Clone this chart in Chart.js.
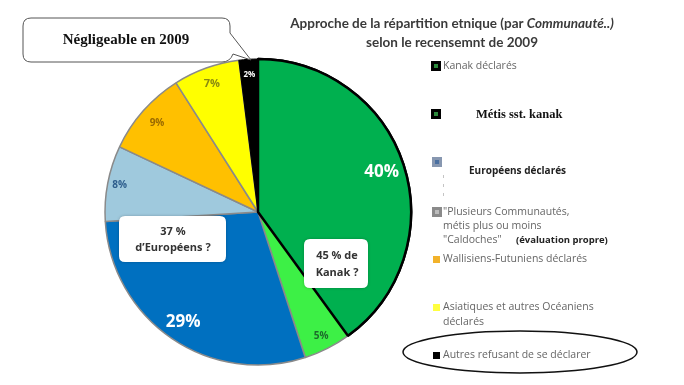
<!DOCTYPE html>
<html lang="fr">
<head>
<meta charset="utf-8">
<script src="https://cdn.jsdelivr.net/npm/chart.js@4.4.0/dist/chart.umd.min.js"></script>
<style>
  html, body { margin: 0; padding: 0; background: #fff; }
  #wrap { width: 684px; height: 385px; position: relative; }
</style>
</head>
<body>
<div id="wrap"><canvas id="camembert" width="684" height="385"></canvas></div>
<script>
// données (recensement 2009)
const communautes = ['Kanak déclarés', 'Métis sst. kanak', 'Européens déclarés',
  'Plusieurs Communautés', 'Wallisiens-Futuniens déclarés',
  'Asiatiques et autres Océaniens déclarés', 'Autres refusant de se déclarer'];
const parts = [40, 5, 29, 8, 9, 7, 2];
const titreLigne1 = 'Approche de la répartition etnique (par ';
const titreItalique = 'Communauté..)';
const titreLigne2 = 'selon le recensemnt de 2009';
const bulleEuropeens = ['37 %', 'd\u2019Européens ?'];
const bulleKanak = ['45 % de', 'Kanak ?'];
const bulleNegligeable = 'Négligeable en 2009';

const couleurs = ['#00b04f', '#3df046', '#0070c0', '#9fc9dd', '#ffc000', '#ffff00', '#000000'];
const bordures = ['#000000', '#8a8a8a', '#8a8a8a', '#8a8a8a', '#8a8a8a', '#8a8a8a', '#000000'];
const epaisseurs = [2.5, 1.5, 1.5, 1.5, 1.5, 1.5, 1];

// style des étiquettes dans les parts
const etiqCouleur = ['#ffffff', '#1d6b2c', '#ffffff', '#2d5d8c', '#9a6a00', '#8a8a10', '#ffffff'];
const etiqTaille = [17, 10, 17, 10, 10, 11, 8];
const etiqDist = [0.85, 0.91, 0.87, 0.92, 0.88, 0.89, 0.9];

function roundRect(ctx, x, y, w, h, r) {
  ctx.beginPath();
  ctx.moveTo(x + r, y);
  ctx.lineTo(x + w - r, y);
  ctx.quadraticCurveTo(x + w, y, x + w, y + r);
  ctx.lineTo(x + w, y + h - r);
  ctx.quadraticCurveTo(x + w, y + h, x + w - r, y + h);
  ctx.lineTo(x + r, y + h);
  ctx.quadraticCurveTo(x, y + h, x, y + h - r);
  ctx.lineTo(x, y + r);
  ctx.quadraticCurveTo(x, y, x + r, y);
  ctx.closePath();
}

function carre(ctx, x, y, taille, fond, centre) {
  ctx.fillStyle = fond;
  ctx.fillRect(x, y, taille, taille);
  if (centre) {
    ctx.fillStyle = centre;
    ctx.fillRect(x + taille / 2 - 2, y + taille / 2 - 2, 4, 4);
  }
}

const decor = {
  id: 'decor',
  afterDatasetsDraw(chart) {
    const ctx = chart.ctx;
    const meta = chart.getDatasetMeta(0);
    // on redessine la part Kanak pour garder sa bordure noire au-dessus
    meta.data[0].draw(ctx);

    ctx.save();
    ctx.textAlign = 'center';
    ctx.textBaseline = 'middle';
    meta.data.forEach((arc, i) => {
      const p = arc.getProps(['x', 'y', 'startAngle', 'endAngle', 'outerRadius'], true);
      const mid = (p.startAngle + p.endAngle) / 2;
      const r = p.outerRadius * etiqDist[i];
      ctx.font = 'bold ' + etiqTaille[i] + 'px "Open Sans", sans-serif';
      ctx.fillStyle = etiqCouleur[i];
      ctx.fillText(parts[i] + '%', p.x + Math.cos(mid) * r, p.y + Math.sin(mid) * r);
    });

    // bulles blanches
    ctx.shadowColor = 'rgba(0,0,0,0.25)';
    ctx.shadowBlur = 3;
    ctx.fillStyle = '#ffffff';
    roundRect(ctx, 119, 216, 107, 46, 6);
    ctx.fill();
    roundRect(ctx, 304, 239, 64, 49, 6);
    ctx.fill();
    ctx.shadowColor = 'transparent';
    ctx.font = 'bold 11px "Open Sans", sans-serif';
    ctx.fillStyle = '#333333';
    ctx.fillText(bulleEuropeens[0], 173, 232);
    ctx.fillText(bulleEuropeens[1], 173, 248);
    ctx.fillText(bulleKanak[0], 337, 256);
    ctx.fillText(bulleKanak[1], 337, 273);

    // bulle "Négligeable en 2009"
    ctx.beginPath();
    ctx.moveTo(31, 18);
    ctx.lineTo(222, 18);
    ctx.quadraticCurveTo(230, 18, 230, 26);
    ctx.lineTo(230, 33);
    ctx.lineTo(251, 60);
    ctx.lineTo(233, 54);
    ctx.quadraticCurveTo(230, 62, 222, 62);
    ctx.lineTo(31, 62);
    ctx.quadraticCurveTo(23, 62, 23, 54);
    ctx.lineTo(23, 26);
    ctx.quadraticCurveTo(23, 18, 31, 18);
    ctx.closePath();
    ctx.fillStyle = '#ffffff';
    ctx.fill();
    ctx.strokeStyle = '#555555';
    ctx.lineWidth = 1;
    ctx.stroke();
    ctx.fillStyle = '#111111';
    ctx.font = 'bold 15px "Liberation Serif", serif';
    ctx.fillText(bulleNegligeable, 126, 40);

    // titre
    ctx.font = 'bold 13.5px Lato, sans-serif';
    const w1 = ctx.measureText(titreLigne1).width;
    ctx.font = 'bold italic 13.5px Lato, sans-serif';
    const w2 = ctx.measureText(titreItalique).width;
    const x0 = 452 - (w1 + w2) / 2;
    ctx.textAlign = 'left';
    ctx.fillStyle = '#3a3a3a';
    ctx.font = 'bold 13.5px Lato, sans-serif';
    ctx.fillText(titreLigne1, x0, 24);
    ctx.font = 'bold italic 13.5px Lato, sans-serif';
    ctx.fillText(titreItalique, x0 + w1, 24);
    ctx.textAlign = 'center';
    ctx.font = 'bold 13.5px Lato, sans-serif';
    ctx.fillText(titreLigne2, 452, 43);

    // légende
    ctx.textAlign = 'left';
    const txtLegende = '10.5px "Open Sans", sans-serif';
    carre(ctx, 431, 61, 10, '#000000', '#2c8a3c');
    ctx.font = txtLegende;
    ctx.fillStyle = '#666666';
    ctx.fillText(communautes[0], 443, 66);

    carre(ctx, 431, 109, 10, '#000000', '#2c8a3c');
    ctx.font = 'bold 12.5px "Liberation Serif", serif';
    ctx.fillStyle = '#111111';
    ctx.fillText(communautes[1], 476, 115);

    carre(ctx, 432, 157, 10, '#8797b0', '#4a6fa0');
    ctx.font = 'bold 10px "Open Sans", sans-serif';
    ctx.fillStyle = '#222222';
    ctx.fillText(communautes[2], 469, 171);
    ctx.strokeStyle = '#c4c4c4';
    ctx.setLineDash([3, 6]);
    ctx.beginPath();
    ctx.moveTo(443.5, 175);
    ctx.lineTo(443.5, 198);
    ctx.stroke();
    ctx.setLineDash([]);

    carre(ctx, 432, 207, 10, '#8a8a8a', '#bcbcbc');
    ctx.font = txtLegende;
    ctx.fillStyle = '#666666';
    ctx.fillText('"' + communautes[3] + ',', 443, 212);
    ctx.fillText('métis plus ou moins', 443, 226);
    ctx.fillText('"Caldoches"', 443, 240);
    ctx.font = 'bold 9.5px "Open Sans", sans-serif';
    ctx.fillStyle = '#222222';
    ctx.fillText('(évaluation propre)', 516, 240);

    carre(ctx, 433, 256, 7, '#f2b22a');
    ctx.font = txtLegende;
    ctx.fillStyle = '#666666';
    ctx.fillText(communautes[4], 443, 259);

    carre(ctx, 433, 304, 7, '#ffff40');
    ctx.fillStyle = '#666666';
    ctx.fillText('Asiatiques et autres Océaniens', 443, 307);
    ctx.fillText('déclarés', 443, 322);

    carre(ctx, 433, 352, 7, '#000000');
    ctx.fillStyle = '#666666';
    ctx.fillText(communautes[6], 443, 355);

    // ellipse autour de la dernière entrée
    ctx.beginPath();
    ctx.ellipse(520, 352, 117, 21, 0, 0, Math.PI * 2);
    ctx.strokeStyle = '#111111';
    ctx.lineWidth = 1.5;
    ctx.stroke();
    ctx.restore();
  }
};

new Chart(document.getElementById('camembert'), {
  type: 'pie',
  data: {
    labels: communautes,
    datasets: [{
      data: parts,
      backgroundColor: couleurs,
      borderColor: bordures,
      borderWidth: epaisseurs,
      radius: 153
    }]
  },
  options: {
    responsive: false,
    animation: false,
    layout: { padding: { left: 100, right: 268, top: 53, bottom: 14 } },
    plugins: {
      legend: { display: false },
      tooltip: { enabled: false },
      title: { display: false }
    }
  },
  plugins: [decor]
});
</script>
</body>
</html>
